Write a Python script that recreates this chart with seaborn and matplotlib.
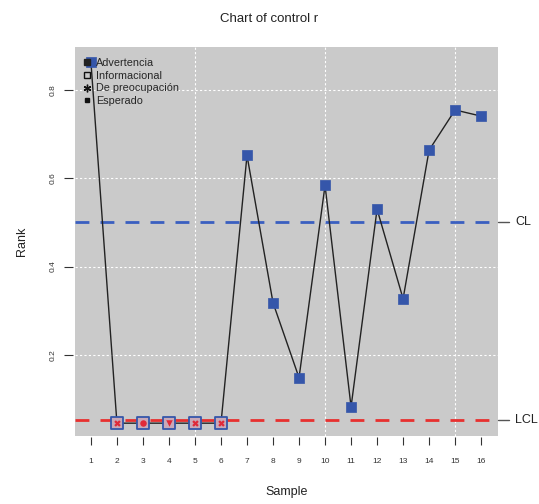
import numpy as np
import pandas as pd
import matplotlib
matplotlib.use("Agg")
import matplotlib.pyplot as plt
import seaborn as sns
from matplotlib.lines import Line2D

samples = list(range(1, 17))
rank = [0.864, 0.045, 0.045, 0.045, 0.045, 0.045, 0.652, 0.318, 0.148, 0.584,
        0.082, 0.530, 0.327, 0.664, 0.755, 0.741]
cl_value = 0.50
lcl_value = 0.052
y_ticks = [0.2, 0.4, 0.6, 0.8]
y_tick_labels = ["0.2", "0.4", "0.6", "0.8"]
legend_labels = ["Advertencia", "Informacional", "De preocupación", "Esperado"]
below = [2, 3, 4, 5, 6]
below_markers = ["X", "o", "v", "X", "X"]

df = pd.DataFrame({"Sample": samples, "Rank": rank})

sns.set_theme(style="white")
plt.rcParams['font.family'] = ['Liberation Sans', 'DejaVu Sans']

fig = plt.figure(figsize=(5.39, 5.04), dpi=100)
ax = fig.add_axes([0.139, 0.135, 0.785, 0.772])
ax.set_facecolor("#cacaca")

for sp in ax.spines.values():
    sp.set_visible(False)
ax.spines["bottom"].set_position(("outward", 1))
ax.spines["left"].set_position(("outward", 1.5))

for xv in [5, 10, 15]:
    ax.axvline(xv, color="white", lw=0.8, ls=(0, (2, 2)), zorder=0.5)
for yv in y_ticks:
    ax.axhline(yv, color="white", lw=0.8, ls=(0, (2, 2)), zorder=0.5)

ax.axhline(cl_value, color="#3a5fc0", lw=2, ls=(0, (5, 4)), zorder=1)
ax.axhline(lcl_value, color="#e8302f", lw=2, ls=(0, (5, 4)), zorder=1)

sns.lineplot(data=df, x="Sample", y="Rank", color="#222222", lw=1, ax=ax, zorder=2)
normal = df[~df["Sample"].isin(below)]
sns.scatterplot(data=normal, x="Sample", y="Rank", marker="s", s=60, color="#3556aa",
                edgecolor="#3556aa", linewidth=0.5, ax=ax, zorder=3)
low = df[df["Sample"].isin(below)]
sns.scatterplot(data=low, x="Sample", y="Rank", marker="s", s=70, color="#c9a9b8",
                edgecolor="#3556aa", linewidth=1.3, ax=ax, zorder=3)
for (sx, sy), mk in zip(low[["Sample", "Rank"]].values, below_markers):
    ax.scatter([sx], [sy], marker=mk, s=22, color="#e02a3a", zorder=4, linewidths=0)

ax.set_xlim(0.385, 16.65)
ax.set_ylim(0.016, 0.898)
ax.set_xticks(samples)
ax.set_xticklabels([str(s) for s in samples])
ax.set_yticks(y_ticks)
ax.set_yticklabels(y_tick_labels)
ax.tick_params(axis="x", bottom=True, length=6, width=0.8, color="#333333", pad=9,
               labelsize=6, labelcolor="#333333")
ax.tick_params(axis="y", left=True, length=6.5, width=0.8, color="#333333", pad=5,
               labelsize=6, labelrotation=90, labelcolor="#333333")
for lab in ax.get_yticklabels():
    lab.set_va("center")

ax.set_xlabel("Sample", fontsize=9, labelpad=15, color="#222222")
ax.set_ylabel("Rank", fontsize=9, labelpad=16, color="#222222")
fig.suptitle("Chart of control r", fontsize=9.5, y=0.975, color="#222222")

trans = ax.get_yaxis_transform()
for val, lab in [(cl_value, "CL"), (lcl_value, "LCL")]:
    ax.plot([1.0, 1.025], [val, val], color="#555555", lw=1, transform=trans, clip_on=False)
    ax.text(1.04, val, lab, transform=trans, va="center", ha="left", fontsize=9, color="#222222")

handles = [
    Line2D([], [], marker="s", ls="none", markersize=4.5, markerfacecolor="#222222", markeredgecolor="#222222"),
    Line2D([], [], marker="s", ls="none", markersize=4.5, markerfacecolor="none", markeredgecolor="#111111"),
    Line2D([], [], marker=(6, 2, 0), ls="none", markersize=5.5, color="#111111"),
    Line2D([], [], marker="s", ls="none", markersize=3.5, color="#111111"),
]
ax.legend(handles, legend_labels, loc="upper left", bbox_to_anchor=(0.007, 0.987),
          frameon=False, fontsize=7.8, handlelength=0.5, handletextpad=0.6,
          labelspacing=0.25, borderpad=0.25, borderaxespad=0.3)

fig.savefig("out.png", dpi=100)
